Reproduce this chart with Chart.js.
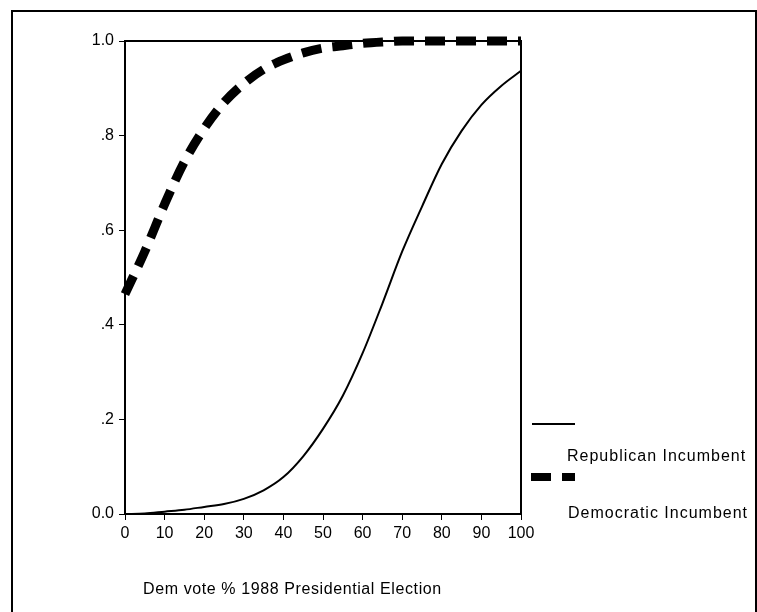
<!DOCTYPE html>
<html lang="en">
<head>
    <meta charset="UTF-8">
    <title>Dem vote % 1988 Presidential Election</title>
    <script src="https://cdn.jsdelivr.net/npm/chart.js"></script>
    <style>
        body { margin: 0; background: #fff; }
        #wrap { position: relative; width: 757px; height: 612px; }
    </style>
</head>
<body>
    <div id="wrap">
        <canvas id="probChart" width="757" height="612"></canvas>
    </div>
    <script>
        // data
        const voteShare = [0, 5, 10, 15, 20, 25, 30, 35, 40, 45, 50, 55, 60, 65, 70, 75, 80, 85, 90, 95, 100];
        const republicanIncumbent = [0, 0.001, 0.005, 0.009, 0.015, 0.021, 0.032, 0.05, 0.078, 0.122, 0.18, 0.25, 0.34, 0.445, 0.555, 0.65, 0.74, 0.81, 0.865, 0.905, 0.937];
        const democraticIncumbent = [0.465, 0.555, 0.655, 0.745, 0.815, 0.87, 0.91, 0.94, 0.96, 0.975, 0.985, 0.99, 0.995, 0.998, 1, 1, 1, 1, 1, 1, 1];
        const yTickLabels = ['0.0', '.2', '.4', '.6', '.8', '1.0'];
        const seriesNames = ['Republican Incumbent', 'Democratic Incumbent'];
        const xTitle = 'Dem vote % 1988 Presidential Election';

        const FONT = '"Liberation Sans", Arial, sans-serif';
        const DASH = [20, 11];

        const toPoints = (ys) => voteShare.map((x, i) => ({ x: x, y: ys[i] }));

        // outer frame, plot box, x title and the odd SPSS style legend
        const decorations = {
            id: 'decorations',
            beforeDraw(chart) {
                const c = chart.ctx;
                c.save();
                c.fillStyle = '#fff';
                c.fillRect(0, 0, chart.width, chart.height);
                c.strokeStyle = '#000';
                c.lineWidth = 2;
                c.beginPath();
                c.moveTo(12, chart.height);
                c.lineTo(12, 11);
                c.lineTo(chart.width - 1, 11);
                c.lineTo(chart.width - 1, chart.height);
                c.stroke();
                c.restore();
            },
            beforeDatasetsDraw(chart) {
                const a = chart.chartArea;
                const c = chart.ctx;
                c.save();
                c.strokeStyle = '#000';
                c.lineWidth = 2;
                c.beginPath();
                c.moveTo(a.left, a.top);
                c.lineTo(a.right, a.top);
                c.lineTo(a.right, a.bottom);
                c.stroke();
                c.restore();
            },
            afterDraw(chart) {
                const a = chart.chartArea;
                const c = chart.ctx;
                c.save();
                c.fillStyle = '#000';
                c.font = '16px ' + FONT;
                c.textBaseline = 'middle';
                c.textAlign = 'left';
                c.letterSpacing = '0.6px';
                c.fillText(xTitle, a.left + 18, 590);

                // legend
                const lx = a.right + 10;
                c.strokeStyle = '#000';
                c.lineWidth = 2;
                c.beginPath();
                c.moveTo(lx + 1, 424);
                c.lineTo(lx + 44, 424);
                c.stroke();
                c.letterSpacing = '1px';
                c.fillText(seriesNames[0], lx + 36, 457);
                c.lineWidth = 8;
                c.setLineDash(DASH);
                c.beginPath();
                c.moveTo(lx, 477);
                c.lineTo(lx + 44, 477);
                c.stroke();
                c.setLineDash([]);
                c.fillText(seriesNames[1], lx + 37, 514);
                c.restore();
            }
        };

        const data = {
            datasets: [{
                label: seriesNames[0],
                data: toPoints(republicanIncumbent),
                borderColor: '#000',
                borderWidth: 2,
                pointRadius: 0,
                cubicInterpolationMode: 'monotone',
                clip: false
            }, {
                label: seriesNames[1],
                data: toPoints(democraticIncumbent),
                borderColor: '#000',
                borderWidth: 9,
                borderDash: DASH,
                borderCapStyle: 'butt',
                pointRadius: 0,
                cubicInterpolationMode: 'monotone',
                clip: false
            }]
        };

        const config = {
            type: 'line',
            data: data,
            options: {
                responsive: false,
                animation: false,
                layout: {
                    padding: { top: 41, right: 236, bottom: 0, left: 0 }
                },
                plugins: {
                    legend: { display: false },
                    tooltip: { enabled: false }
                },
                scales: {
                    x: {
                        type: 'linear',
                        min: 0,
                        max: 100,
                        ticks: {
                            stepSize: 10,
                            color: '#000',
                            padding: 4,
                            maxRotation: 0,
                            font: { family: FONT, size: 16 }
                        },
                        grid: {
                            drawOnChartArea: false,
                            drawTicks: true,
                            tickLength: 6,
                            color: '#000',
                            lineWidth: 1
                        },
                        border: { display: true, color: '#000', width: 2 },
                        afterFit(scale) { scale.height = 98; }
                    },
                    y: {
                        min: 0,
                        max: 1,
                        ticks: {
                            stepSize: 0.2,
                            color: '#000',
                            padding: 5,
                            font: { family: FONT, size: 16 },
                            callback: (v) => yTickLabels[Math.round(v * 5)]
                        },
                        grid: {
                            drawOnChartArea: false,
                            drawTicks: true,
                            tickLength: 6,
                            color: '#000',
                            lineWidth: 1
                        },
                        border: { display: true, color: '#000', width: 2 },
                        afterFit(scale) { scale.width = 125; }
                    }
                }
            },
            plugins: [decorations]
        };

        const ctx = document.querySelector('#probChart').getContext('2d');
        const probChart = new Chart(ctx, config);
    </script>
</body>
</html>
